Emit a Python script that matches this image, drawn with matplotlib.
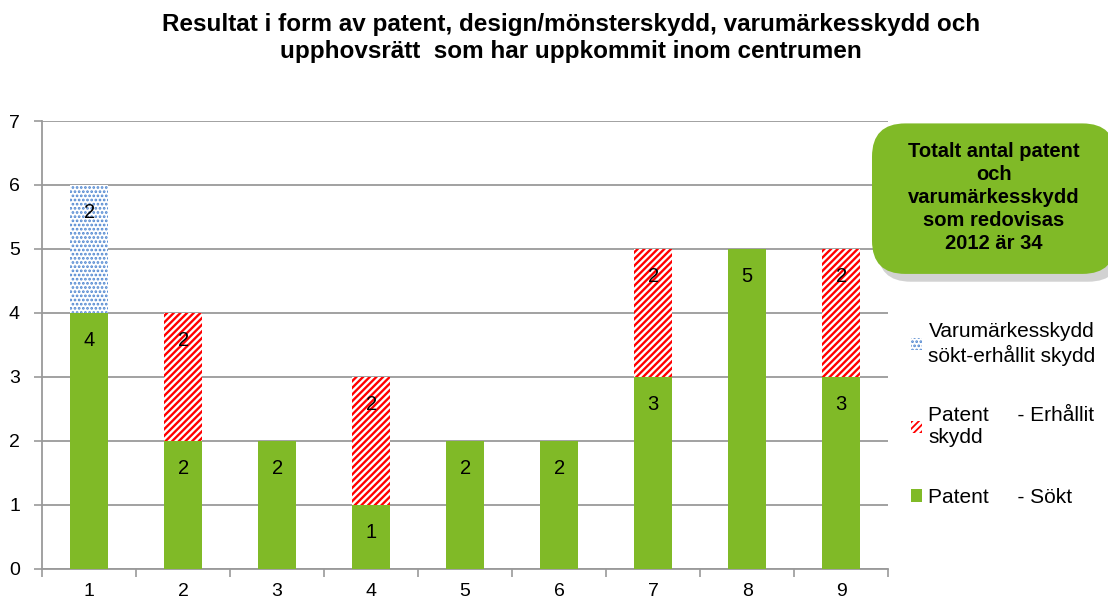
import numpy as np
import matplotlib.pyplot as plt
from matplotlib.patches import FancyBboxPatch, Patch

plt.rcParams['font.family'] = ['Liberation Sans', 'DejaVu Sans']

categories = ['1', '2', '3', '4', '5', '6', '7', '8', '9']
patent_sokt = [4, 2, 2, 1, 2, 2, 3, 5, 3]
patent_erhallit = [0, 2, 0, 2, 0, 0, 2, 0, 2]
varumarke = [2, 0, 0, 0, 0, 0, 0, 0, 0]

title = ('Resultat i form av patent, design/mönsterskydd, varumärkesskydd och\n'
         'upphovsrätt  som har uppkommit inom centrumen')
box_text = 'Totalt antal patent\noch\nvarumärkesskydd\nsom redovisas\n2012 är 34'

green = '#80ba27'
red = '#ff0000'
blue = '#4f86d0'
gray = '#9a9a9a'

fig = plt.figure(figsize=(11.08, 6.02), dpi=100)
ax = fig.add_axes([0.038, 0.055, 0.7635, 0.744])

x = np.arange(1, len(categories) + 1)
w = 0.41
s = np.array(patent_sokt)
e = np.array(patent_erhallit)
v = np.array(varumarke)

ax.bar(x, s, w, color=green, zorder=3)
plt.rcParams['hatch.linewidth'] = 1.7
ax.bar(x, e, w, bottom=s, facecolor='white', edgecolor=red,
       hatch='/////', linewidth=0, zorder=3)
plt.rcParams['hatch.linewidth'] = 1.3
ax.bar(x, v, w, bottom=s + e, facecolor='white', edgecolor=blue,
       hatch='....', linewidth=0, zorder=3)


def seg_label(xi, top, val):
    # Excel "inside end" labels: just below the top of each segment
    ax.annotate(str(val), (xi, top), xytext=(0, -20), textcoords='offset points',
                ha='center', va='center', fontsize=14.5, zorder=4)


for i in range(len(x)):
    if s[i]:
        seg_label(x[i], s[i], s[i])
    if e[i]:
        seg_label(x[i], s[i] + e[i], e[i])
    if v[i]:
        seg_label(x[i], s[i] + e[i] + v[i], v[i])

ax.set_xlim(0.5, 9.5)
ax.set_ylim(0, 7)
ax.set_yticks(range(0, 8))
ax.set_xticks(x)
ax.set_xticklabels(categories)
ax.set_xticks(np.arange(0.5, 10, 1), minor=True)
ax.tick_params(axis='x', which='major', length=0, labelsize=14, pad=10)
ax.tick_params(axis='x', which='minor', length=6, color=gray, width=1.2)
ax.tick_params(axis='y', length=6, color=gray, width=1.2, labelsize=14, pad=10)
ax.grid(axis='y', color=gray, linewidth=1.3, zorder=0)
for sp in ['top', 'right']:
    ax.spines[sp].set_visible(False)
for sp in ['left', 'bottom']:
    ax.spines[sp].set_color(gray)
    ax.spines[sp].set_linewidth(1.3)

fig.text(0.515, 0.978, title, ha='center', va='top', fontsize=17.5,
         fontweight='bold', linespacing=1.2)

# green callout box with shadow
asp = 1108 / 602
shadow = FancyBboxPatch((0.792, 0.532), 0.22, 0.25, boxstyle='round,pad=0,rounding_size=0.03',
                        transform=fig.transFigure, facecolor='#b5b5b5', edgecolor='none',
                        alpha=0.6, zorder=1, mutation_aspect=asp)
box = FancyBboxPatch((0.787, 0.545), 0.22, 0.25, boxstyle='round,pad=0,rounding_size=0.03',
                     transform=fig.transFigure, facecolor=green, edgecolor='none', zorder=2,
                     mutation_aspect=asp)
fig.patches.extend([shadow, box])
fig.text(0.897, 0.672, box_text, ha='center', va='center', fontsize=14.5,
         fontweight='bold', linespacing=1.27, zorder=3)

handles = [Patch(facecolor='white', edgecolor=blue, hatch='....', linewidth=0),
           Patch(facecolor='white', edgecolor=red, hatch='/////', linewidth=0),
           Patch(facecolor=green)]
labels = ['Varumärkesskydd\nsökt-erhållit skydd', 'Patent     - Erhållit\nskydd',
          'Patent     - Sökt']
fig.legend(handles, labels, loc='upper left', bbox_to_anchor=(0.822, 0.465),
           frameon=False, fontsize=15, handlelength=0.55, handleheight=0.55,
           handletextpad=0.3, labelspacing=1.95, borderaxespad=0, borderpad=0)

fig.savefig('out.png', dpi=100)
